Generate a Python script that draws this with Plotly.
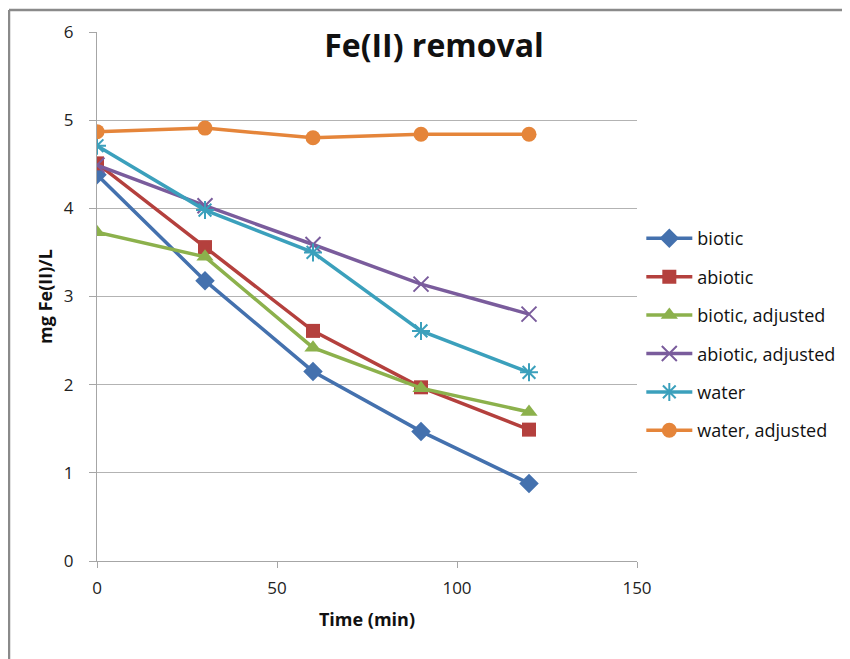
import plotly.graph_objects as go

time_min = [0, 30, 60, 90, 120]
biotic = [4.38, 3.18, 2.15, 1.47, 0.88]
abiotic = [4.51, 3.56, 2.61, 1.97, 1.49]
biotic_adjusted = [3.73, 3.45, 2.42, 1.96, 1.69]
abiotic_adjusted = [4.49, 4.03, 3.59, 3.14, 2.80]
water = [4.71, 3.98, 3.50, 2.61, 2.14]
water_adjusted = [4.87, 4.91, 4.80, 4.84, 4.84]

series = [
    ("biotic", biotic, "#4471ae", "diamond", 15, 0),
    ("abiotic", abiotic, "#b4403d", "square", 14, 0),
    ("biotic, adjusted", biotic_adjusted, "#8cb14c", "triangle-up", 15, 0),
    ("abiotic, adjusted", abiotic_adjusted, "#7a5c9c", "x-thin-open", 15, 2),
    ("water", water, "#3ba0bc", "asterisk-open", 15, 2),
    ("water, adjusted", water_adjusted, "#e5853a", "circle", 15, 0),
]

fig = go.Figure()
for name, vals, color, sym, size, lw in series:
    marker = dict(symbol=sym, size=size, color=color)
    if lw:
        marker["line"] = dict(color=color, width=lw)
    else:
        marker["line"] = dict(width=0)
    fig.add_trace(go.Scatter(
        x=time_min, y=vals, name=name, mode="lines+markers",
        line=dict(color=color, width=3.5), marker=marker, legendgroup=name,
    ))

font_family = "Open Sans, Noto Sans, Liberation Sans, sans-serif"

# page body adds an 8px offset; margins compensate for it
fig.update_layout(
    width=850, height=659,
    margin=dict(l=89, r=221, t=21, b=106),
    paper_bgcolor="white", plot_bgcolor="white",
    font=dict(family=font_family, color="#222"),
    title=dict(text="<b>Fe(II) removal</b>", x=426/850, xanchor="center",
               y=1 - 38/659, yanchor="middle",
               font=dict(size=32, color="#111")),
    xaxis=dict(range=[0, 150], tickvals=[0, 50, 100, 150], showgrid=False,
               showline=True, linecolor="#a6a6a6", linewidth=1,
               ticks="outside", ticklen=6, tickcolor="#a6a6a6",
               ticklabelstandoff=6,
               tickfont=dict(size=17, color="#222"),
               title=dict(text="<b>Time (min)</b>", font=dict(size=18, color="#111"), standoff=14),
               zeroline=False),
    yaxis=dict(range=[0, 6], tickvals=[0, 1, 2, 3, 4, 5, 6], showgrid=True,
               gridcolor="#b3b3b3", gridwidth=1,
               showline=True, linecolor="#a6a6a6", linewidth=1,
               ticks="outside", ticklen=7, tickcolor="#a6a6a6",
               ticklabelstandoff=12,
               tickfont=dict(size=17, color="#222"),
               title=dict(text="<b>mg Fe(II)/L</b>", font=dict(size=18, color="#111"), standoff=6),
               zeroline=False),
    legend=dict(x=0.008 + 1, xanchor="left", y=0.428, yanchor="middle",
                font=dict(size=18, color="#111"), tracegroupgap=12,
                itemwidth=46, bgcolor="rgba(0,0,0,0)"),
    showlegend=True,
)

# outer chart border (top and left edges visible)
fig.add_shape(type="line", xref="paper", yref="paper",
              x0=(1 - 89) / 540, x1=(1 - 89) / 540, y0=(553 + 1) / 532, y1=(553 - 700) / 532,
              line=dict(color="#8a8a8a", width=2.5))
fig.add_shape(type="line", xref="paper", yref="paper",
              x0=(1 - 89) / 540, x1=(900 - 89) / 540, y0=(553 + 1) / 532, y1=(553 + 1) / 532,
              line=dict(color="#8a8a8a", width=2.5))

fig.write_html("out.html")
